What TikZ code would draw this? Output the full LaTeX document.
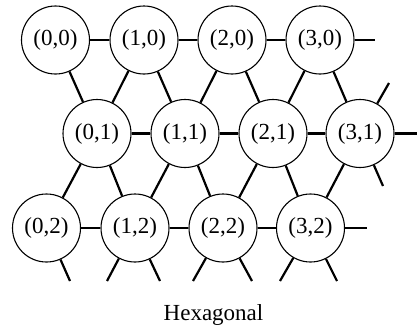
\documentclass[tikz,border=0pt]{standalone}
\usepackage{fontspec}
\setmainfont{Liberation Serif}
\begin{document}
\begin{tikzpicture}[x=1pt,y=-1pt,
  cell/.style={circle,draw,line width=1.1pt,minimum size=68pt,inner sep=0pt,
    font=\fontsize{23}{23}\selectfont,fill=white},
  link/.style={line width=2.2pt},
  caption/.style={font=\fontsize{23}{23}\selectfont}]
\useasboundingbox (0,0) rectangle (417,330);
% row 0
\node[cell] (n00) at (55.5,40) {(0,0)};
\node[cell] (n10) at (144,40) {(1,0)};
\node[cell] (n20) at (232,40) {(2,0)};
\node[cell] (n30) at (320,40) {(3,0)};
% row 1
\node[cell] (n01) at (97,133.5) {(0,1)};
\node[cell] (n11) at (185,133.5) {(1,1)};
\node[cell] (n21) at (273,133.5) {(2,1)};
\node[cell] (n31) at (360,133.5) {(3,1)};
% row 2
\node[cell] (n02) at (46.5,228) {(0,2)};
\node[cell] (n12) at (135,228) {(1,2)};
\node[cell] (n22) at (223,228) {(2,2)};
\node[cell] (n32) at (310.5,228) {(3,2)};
% stub ends
\coordinate (e30) at (375,40);
\coordinate (e31) at (417,133.5);
\coordinate (e32) at (367,228);
\coordinate (u31) at (389,83);
\coordinate (d31) at (383,186);
\coordinate (b02r) at (70,281);
\coordinate (b12l) at (107,281);
\coordinate (b12r) at (160,281);
\coordinate (b22l) at (193,281);
\coordinate (b22r) at (252,281);
\coordinate (b32l) at (280,281);
\coordinate (b32r) at (337,281);
% horizontal links
\draw[link] (n00) -- (n10);
\draw[link] (n10) -- (n20);
\draw[link] (n20) -- (n30);
\draw[link] (n30) -- (e30);
\draw[link] (n01) -- (n11);
\draw[link] (n11) -- (n21);
\draw[link] (n21) -- (n31);
\draw[link] (n31) -- (e31);
\draw[link] (n02) -- (n12);
\draw[link] (n12) -- (n22);
\draw[link] (n22) -- (n32);
\draw[link] (n32) -- (e32);
% row 0 - row 1
\draw[link] (n00) -- (n01);
\draw[link] (n10) -- (n01);
\draw[link] (n10) -- (n11);
\draw[link] (n20) -- (n11);
\draw[link] (n20) -- (n21);
\draw[link] (n30) -- (n21);
\draw[link] (n30) -- (n31);
\draw[link] (n31) -- (u31);
% row 1 - row 2
\draw[link] (n01) -- (n02);
\draw[link] (n01) -- (n12);
\draw[link] (n11) -- (n12);
\draw[link] (n11) -- (n22);
\draw[link] (n21) -- (n22);
\draw[link] (n21) -- (n32);
\draw[link] (n31) -- (n32);
\draw[link] (n31) -- (d31);
% bottom stubs
\draw[link] (n02) -- (b02r);
\draw[link] (n12) -- (b12l);
\draw[link] (n12) -- (b12r);
\draw[link] (n22) -- (b22l);
\draw[link] (n22) -- (b22r);
\draw[link] (n32) -- (b32l);
\draw[link] (n32) -- (b32r);
\node[caption] (cap) at (213.5,315) {Hexagonal};
\end{tikzpicture}
\end{document}
